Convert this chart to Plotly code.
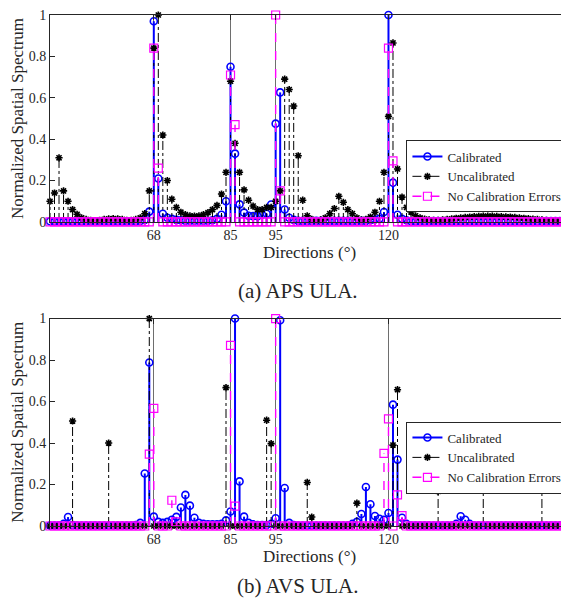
import plotly.graph_objects as go

# Directions (degrees), 1-degree grid
directions = list(range(45, 161))

# ---------------- (a) APS ULA ----------------
aps_calibrated = [
    0.003, 0.003, 0.003, 0.003, 0.003, 0.003, 0.003, 0.003, 0.003, 0.003,   # 45-54
    0.003, 0.003, 0.003, 0.003, 0.003, 0.003, 0.003, 0.003, 0.003, 0.003,   # 55-64
    0.005, 0.010, 0.050, 0.970, 0.210, 0.040, 0.020, 0.015, 0.010, 0.008,   # 65-74
    0.006, 0.006, 0.006, 0.006, 0.006, 0.006, 0.008, 0.015, 0.035, 0.100,   # 75-84
    0.750, 0.330, 0.085, 0.045, 0.030, 0.028, 0.028, 0.035, 0.040, 0.084,   # 85-94
    0.475, 0.626, 0.060, 0.020, 0.010, 0.005, 0.005, 0.005, 0.005, 0.005,   # 95-104
    0.005, 0.005, 0.005, 0.005, 0.005, 0.005, 0.005, 0.005, 0.005, 0.005,   # 105-114
    0.005, 0.008, 0.012, 0.015, 0.048, 1.000, 0.190, 0.035, 0.015, 0.008,   # 115-124
    0.004, 0.004, 0.004, 0.004, 0.004, 0.004, 0.004, 0.004, 0.004, 0.004,   # 125-134
    0.004, 0.004, 0.004, 0.004, 0.004, 0.004, 0.004, 0.004, 0.004, 0.004,   # 135-144
    0.004, 0.004, 0.004, 0.004, 0.004, 0.004, 0.004, 0.004, 0.004, 0.004,   # 145-154
    0.004, 0.004, 0.004, 0.004, 0.004, 0.004,                               # 155-160
]
aps_uncalibrated = [
    0.100, 0.140, 0.310, 0.150, 0.100, 0.060, 0.037, 0.020, 0.012, 0.008,   # 45-54
    0.006, 0.008, 0.012, 0.015, 0.016, 0.015, 0.012, 0.008, 0.008, 0.012,   # 55-64
    0.020, 0.040, 0.150, 0.840, 1.000, 0.420, 0.200, 0.110, 0.070, 0.047,   # 65-74
    0.035, 0.030, 0.028, 0.030, 0.035, 0.045, 0.060, 0.080, 0.135, 0.240,   # 75-84
    0.680, 0.380, 0.240, 0.155, 0.105, 0.077, 0.060, 0.060, 0.070, 0.070,   # 85-94
    0.100, 0.150, 0.690, 0.640, 0.560, 0.320, 0.105, 0.030, 0.012, 0.006,   # 95-104
    0.010, 0.020, 0.040, 0.065, 0.124, 0.095, 0.060, 0.040, 0.020, 0.010,   # 105-114
    0.012, 0.024, 0.047, 0.100, 0.240, 0.510, 0.865, 0.256, 0.120, 0.070,   # 115-124
    0.048, 0.030, 0.020, 0.014, 0.010, 0.008, 0.008, 0.010, 0.012, 0.015,   # 125-134
    0.018, 0.020, 0.022, 0.024, 0.026, 0.027, 0.028, 0.028, 0.028, 0.027,   # 135-144
    0.026, 0.025, 0.024, 0.022, 0.020, 0.018, 0.016, 0.014, 0.012, 0.010,   # 145-154
    0.008, 0.007, 0.006, 0.005, 0.004, 0.004,                               # 155-160
]
aps_no_errors = [
    0, 0, 0, 0, 0, 0, 0, 0, 0, 0,                                           # 45-54
    0, 0, 0, 0, 0, 0, 0, 0, 0, 0,                                           # 55-64
    0, 0, 0, 0.840, 0.260, 0, 0, 0, 0, 0,                                   # 65-74
    0, 0, 0, 0, 0, 0, 0, 0, 0, 0,                                           # 75-84
    0.710, 0.470, 0, 0, 0, 0, 0, 0, 0, 0,                                   # 85-94
    1.000, 0.150, 0, 0, 0, 0, 0, 0, 0, 0,                                   # 95-104
    0, 0, 0, 0, 0, 0, 0, 0, 0, 0,                                           # 105-114
    0, 0, 0, 0, 0, 0.840, 0.295, 0, 0, 0,                                   # 115-124
    0, 0, 0, 0, 0, 0, 0, 0, 0, 0,                                           # 125-134
    0, 0, 0, 0, 0, 0, 0, 0, 0, 0,                                           # 135-144
    0, 0, 0, 0, 0, 0, 0, 0, 0, 0,                                           # 145-154
    0, 0, 0, 0, 0, 0,                                                       # 155-160
]

# ---------------- (b) AVS ULA ----------------
avs_calibrated = [
    0.002, 0.002, 0.002, 0.010, 0.043, 0.005, 0.002, 0.002, 0.002, 0.002,   # 45-54
    0.002, 0.002, 0.002, 0.002, 0.002, 0.002, 0.002, 0.002, 0.002, 0.005,   # 55-64
    0.015, 0.253, 0.788, 0.045, 0.020, 0.015, 0.020, 0.030, 0.044, 0.089,   # 65-74
    0.150, 0.098, 0.040, 0.015, 0.010, 0.008, 0.008, 0.008, 0.010, 0.027,   # 75-84
    0.070, 1.000, 0.215, 0.045, 0.015, 0.008, 0.005, 0.005, 0.005, 0.010,   # 85-94
    0.037, 0.992, 0.183, 0.015, 0.005, 0.002, 0.002, 0.002, 0.002, 0.002,   # 95-104
    0.002, 0.002, 0.002, 0.002, 0.002, 0.002, 0.002, 0.010, 0.020, 0.058,   # 105-114
    0.188, 0.105, 0.048, 0.035, 0.030, 0.063, 0.585, 0.320, 0.040, 0.010,   # 115-124
    0.002, 0.002, 0.002, 0.002, 0.002, 0.002, 0.002, 0.002, 0.002, 0.002,   # 125-134
    0.010, 0.047, 0.030, 0.010, 0.002, 0.002, 0.002, 0.002, 0.002, 0.002,   # 135-144
    0.002, 0.002, 0.002, 0.002, 0.002, 0.002, 0.002, 0.002, 0.002, 0.002,   # 145-154
    0.002, 0.002, 0.002, 0.002, 0.002, 0.002,                               # 155-160
]
avs_uncalibrated = [
    0, 0, 0, 0, 0, 0.506, 0, 0, 0, 0,                                       # 45-54
    0, 0, 0, 0.400, 0, 0, 0, 0, 0, 0,                                       # 55-64
    0, 0, 1.000, 0, 0, 0, 0, 0, 0, 0,                                       # 65-74
    0, 0, 0, 0, 0, 0, 0, 0, 0, 0.667,                                       # 75-84
    0, 0, 0, 0, 0, 0, 0, 0, 0.510, 0.397,                                   # 85-94
    0, 0, 0, 0, 0, 0, 0, 0.210, 0.043, 0,                                   # 95-104
    0, 0, 0, 0, 0, 0, 0, 0, 0.110, 0,                                       # 105-114
    0, 0, 0, 0, 0, 0, 0.390, 0.657, 0, 0,                                   # 115-124
    0, 0, 0, 0, 0, 0, 0.167, 0, 0, 0,                                       # 125-134
    0, 0, 0, 0, 0, 0, 0.185, 0, 0, 0,                                       # 135-144
    0, 0, 0, 0, 0, 0, 0, 0, 0, 0.185,                                       # 145-154
    0, 0, 0, 0, 0, 0,                                                       # 155-160
]
avs_no_errors = [
    0, 0, 0, 0, 0, 0, 0, 0, 0, 0,                                           # 45-54
    0, 0, 0, 0, 0, 0, 0, 0, 0, 0,                                           # 55-64
    0, 0, 0.346, 0.567, 0, 0, 0, 0.124, 0.020, 0,                           # 65-74
    0, 0, 0, 0, 0, 0, 0, 0, 0, 0,                                           # 75-84
    0.871, 0.096, 0, 0, 0, 0, 0, 0, 0, 0,                                   # 85-94
    1.000, 0, 0, 0, 0, 0, 0, 0, 0, 0,                                       # 95-104
    0, 0, 0, 0, 0, 0, 0, 0, 0, 0,                                           # 105-114
    0, 0, 0, 0, 0.350, 0.516, 0, 0.150, 0.050, 0,                           # 115-124
    0, 0, 0, 0, 0, 0, 0, 0, 0, 0,                                           # 125-134
    0, 0, 0, 0, 0, 0, 0, 0, 0, 0,                                           # 135-144
    0, 0, 0, 0, 0, 0, 0, 0, 0, 0,                                           # 145-154
    0, 0, 0, 0, 0, 0,                                                       # 155-160
]

true_directions = [68, 85, 95, 120]
y_ticks = [0, 0.2, 0.4, 0.6, 0.8, 1]
y_tick_labels = ["0", "0.2", "0.4", "0.6", "0.8", "1"]
series_names = ["Calibrated", "Uncalibrated", "No Calibration Errors"]
captions = ["(a) APS ULA.", "(b) AVS ULA."]

FONT = "Liberation Serif"
INK = "#262626"

styles = [
    dict(color="#0000FF", dash="solid", width=2,
         symbol="circle-open", msize=7, mline=1.6),
    dict(color="#000000", dash="dashdot", width=1,
         symbol="asterisk-open", msize=6, mline=1.6),
    dict(color="#FF00FF", dash="dash", width=1.4,
         symbol="square-open", msize=8, mline=1.2),
]


def stem_xy(xs, ys):
    sx, sy = [], []
    for x, y in zip(xs, ys):
        sx += [x, x, None]
        sy += [0, y, None]
    return sx, sy


fig = go.Figure()

panels = [
    ("x", "y", "legend", [aps_calibrated, aps_uncalibrated, aps_no_errors]),
    ("x2", "y2", "legend2", [avs_calibrated, avs_uncalibrated, avs_no_errors]),
]

for xa, ya, leg, data in panels:
    for name, vals, st in zip(series_names, data, styles):
        sx, sy = stem_xy(directions, vals)
        fig.add_trace(go.Scatter(
            x=sx, y=sy, mode="lines", xaxis=xa, yaxis=ya,
            line=dict(color=st["color"], dash=st["dash"], width=st["width"]),
            showlegend=False, hoverinfo="skip", cliponaxis=False,
        ))
        fig.add_trace(go.Scatter(
            x=directions, y=vals, mode="markers", xaxis=xa, yaxis=ya,
            marker=dict(symbol=st["symbol"], size=st["msize"], color=st["color"],
                        line=dict(color=st["color"], width=st["mline"])),
            showlegend=False, name=name, cliponaxis=False,
        ))
    for name, st in zip(series_names, styles):
        fig.add_trace(go.Scatter(
            x=[None], y=[None], mode="lines+markers", xaxis=xa, yaxis=ya,
            name=name, legend=leg,
            line=dict(color=st["color"], dash=st["dash"], width=st["width"]),
            marker=dict(symbol=st["symbol"], size=st["msize"], color=st["color"],
                        line=dict(color=st["color"], width=st["mline"])),
        ))

axis_common = dict(
    showline=True, linecolor=INK, linewidth=1, mirror="ticks",
    ticks="inside", ticklen=5, tickcolor=INK,
    tickfont=dict(family=FONT, size=14, color=INK),
    ticklabeloverflow="allow",
    zeroline=False,
)
xcommon = dict(axis_common, range=[45, 160], tickvals=true_directions,
               showgrid=True, gridcolor="#6e6e6e", gridwidth=1.2,
               title=dict(text="Directions (°)", standoff=2,
                          font=dict(family=FONT, size=17, color=INK)))
ycommon = dict(axis_common, range=[0, 1], tickvals=y_ticks, ticktext=y_tick_labels,
               showgrid=False,
               title=dict(text="Normalized Spatial Spectrum", standoff=6,
                          font=dict(family=FONT, size=17, color=INK)))

top_domain = [0.595, 1.0]
bot_domain = [0.0, 0.406]

legend_common = dict(
    bgcolor="white", bordercolor=INK, borderwidth=1,
    font=dict(family=FONT, size=13, color=INK),
    xanchor="right", yanchor="middle", tracegroupgap=0, itemwidth=30,
)

# the page body adds an 8px offset, so the figure is sized to fit the window
fig.update_layout(
    width=561, height=594,
    margin=dict(l=42, r=0, t=7, b=76),
    paper_bgcolor="white", plot_bgcolor="white",
    font=dict(family=FONT, color=INK),
    xaxis=dict(xcommon, anchor="y"),
    yaxis=dict(ycommon, domain=top_domain, anchor="x"),
    xaxis2=dict(xcommon, anchor="y2"),
    yaxis2=dict(ycommon, domain=bot_domain, anchor="x2"),
    legend=dict(legend_common, x=0.997, y=0.684),
    legend2=dict(legend_common, x=0.997, y=0.134),
    annotations=[
        dict(text=captions[0], x=0.478, y=0.46, xref="paper", yref="paper",
             xanchor="center", yanchor="middle", showarrow=False,
             font=dict(family=FONT, size=21, color=INK)),
        dict(text=captions[1], x=0.478, y=-0.117, xref="paper", yref="paper",
             xanchor="center", yanchor="middle", showarrow=False,
             font=dict(family=FONT, size=21, color=INK)),
    ],
)

fig.write_html("out.html")
